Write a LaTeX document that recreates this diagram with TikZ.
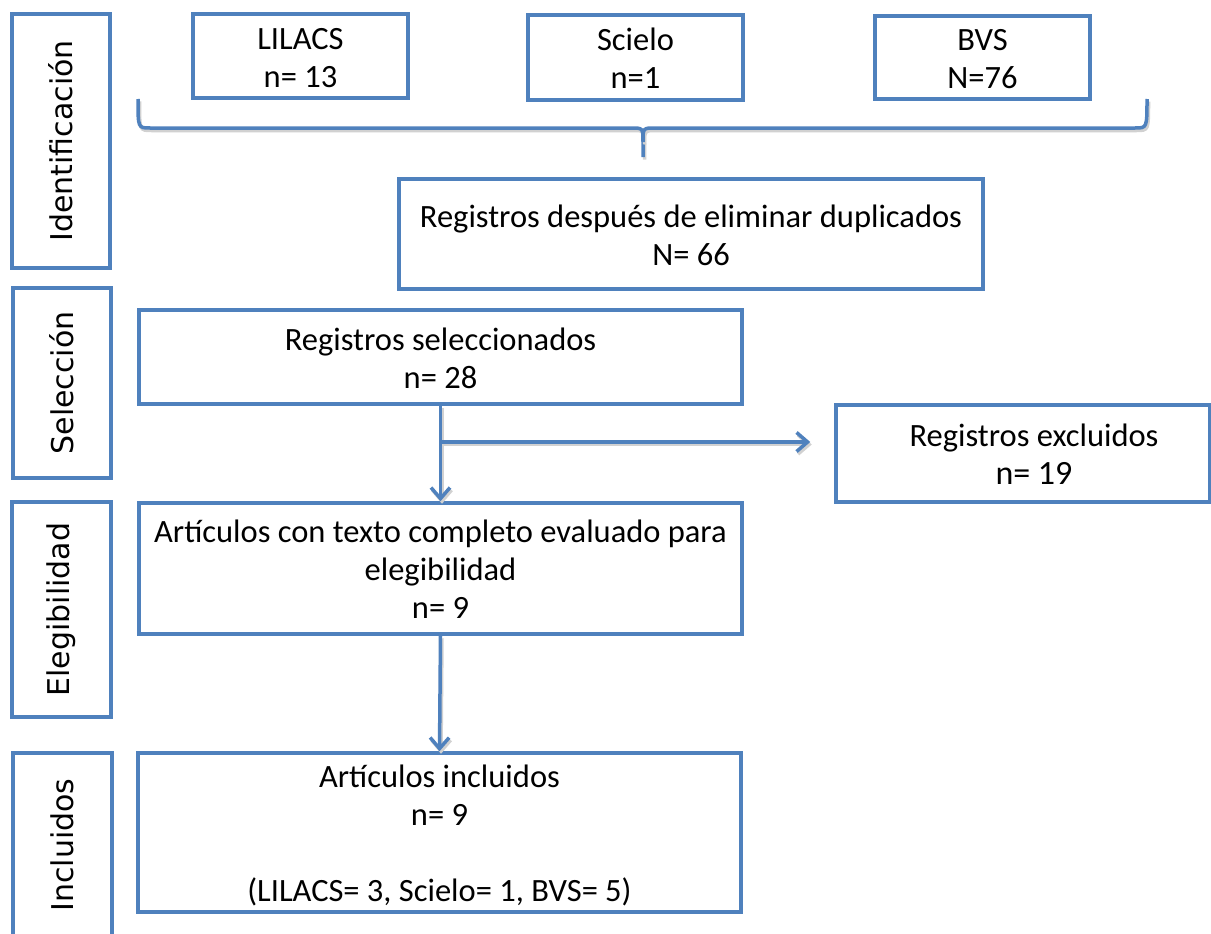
\documentclass[tikz,border=0pt]{standalone}
\usepackage{fontspec}
\setmainfont{Carlito}
\newfontfamily\sidefont{DejaVu Sans}
\usetikzlibrary{arrows.meta}
\definecolor{bl}{RGB}{79,129,189}
\newcommand{\boxtext}[2][0pt]{\raisebox{-#1}[\height][\depth]{\begin{tabular}{@{}c@{}}#2\end{tabular}}}
\begin{document}
\begin{tikzpicture}[x=1pt,y=-1pt,
  box/.style={draw=bl, line width=3.5pt, inner sep=0pt, font=\fontsize{32.5}{38}\selectfont},
  sidebox/.style={draw=bl, line width=3.5pt, inner sep=0pt, rotate=90, font=\sidefont\fontsize{30}{36}\selectfont},
  shadowed/.style={preaction={draw=black!18, line width=3.5pt, transform canvas={shift={(1.5pt,-2.5pt)}}}},
  conn/.style={draw=bl, line width=3.5pt, -{Straight Barb[length=11pt,width=19pt,line width=3.5pt]}},
  bracestyle/.style={draw=bl, line width=3.5pt}
]
\useasboundingbox (0,0) rectangle (1211,934);
\fill[white] (0,0) rectangle (1211,934);

% side labels
\node[sidebox, minimum width=254, minimum height=98] (sident) at (61,141) {Identificación};
\node[sidebox, minimum width=190, minimum height=98] (ssel) at (62,383) {Selección};
\node[sidebox, minimum width=215, minimum height=99] (seleg) at (61.5,609.5) {Elegibilidad};
\node[sidebox, minimum width=192, minimum height=99] (sinc) at (62.5,849) {\hspace{8pt}Incluidos};

% top sources
\node[box, minimum width=215, minimum height=84] (lil) at (300.5,56) {\boxtext[5pt]{LILACS\\n= 13}};
\node[box, minimum width=215, minimum height=85] (sci) at (635.5,57.5) {\boxtext[4pt]{Scielo\\n=1}};
\node[box, minimum width=215, minimum height=83] (bvs) at (982.5,57.5) {\boxtext[4pt]{BVS\\N=76}};

% brace
\draw[bracestyle, shadowed] (138,99) .. controls (138,128) .. (150,128) -- (631,128) .. controls (643,128) .. (643,142) -- (643,157);
\draw[bracestyle, shadowed] (1147,99) .. controls (1147,128) .. (1135,128) -- (655,128) .. controls (643,128) .. (643,142);

% main boxes
\node[box, minimum width=584, minimum height=110] (dup) at (691,234) {\boxtext[5pt]{Registros después de eliminar duplicados\\N= 66}};
\node[box, minimum width=603, minimum height=94] (sel) at (440.5,357) {\boxtext[5pt]{Registros seleccionados\\n= 28}};
\node[box, minimum width=374, minimum height=97] (exc) at (1023,453.5) {\boxtext[4pt]{\hspace{22pt}Registros excluidos\\\hspace{22pt}{\fontsize{34}{38}\selectfont n= 19}}};
\node[box, minimum width=603, minimum height=131] (art) at (440.5,568.5) {\boxtext[4pt]{Artículos con texto completo evaluado para\\elegibilidad\\n= 9}};
\node[box, minimum width=603, minimum height=159] (inc) at (439.5,832.5) {\boxtext[4pt]{Artículos incluidos\\n= 9\\\mbox{}\\(LILACS= 3, Scielo= 1, BVS= 5)}};

% connectors
\coordinate (br) at (sel.south |- 0,442);
\draw[conn, shadowed] (sel.south) -- (art.north);
\draw[conn, shadowed, shorten >=24pt] (br) -- (br -| exc.west);
\draw[conn, shadowed] (art.south) -- (inc.north);
\end{tikzpicture}
\end{document}
